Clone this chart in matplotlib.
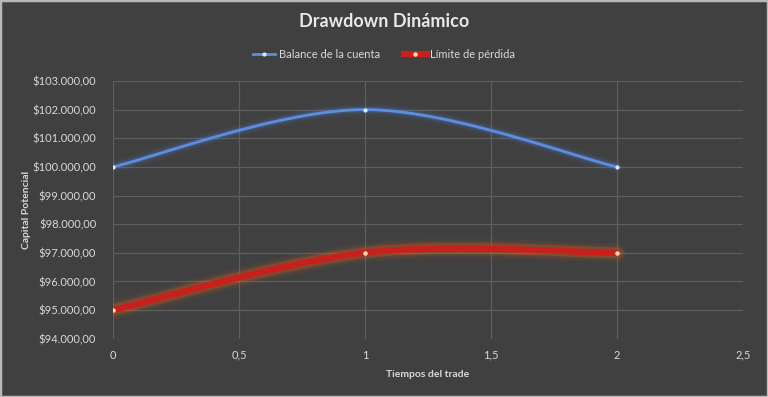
import numpy as np
import matplotlib
matplotlib.use("Agg")
import matplotlib.pyplot as plt
from matplotlib.patches import Rectangle
from matplotlib.ticker import FuncFormatter, MultipleLocator
from matplotlib.lines import Line2D

# Data
tiempos = [0, 1, 2]
balance = [100000, 102000, 100000]
limite = [95000, 97000, 97000]
title = "Drawdown Dinámico"
series_names = ["Balance de la cuenta", "Límite de pérdida"]

plt.rcParams['font.family'] = ['Lato', 'DejaVu Sans']

BG = '#404040'
TXT = '#d9d9d9'
GRID = '#5e5e5e'


def smooth(xs, ys, n=60):
    # Excel-like Bezier smoothing (Catmull-Rom control points)
    xs = np.asarray(xs, float); ys = np.asarray(ys, float)
    P = np.column_stack([xs, ys])
    out = []
    for i in range(len(P) - 1):
        p0 = P[i - 1] if i > 0 else P[i]
        p1 = P[i]; p2 = P[i + 1]
        p3 = P[i + 2] if i + 2 < len(P) else P[i + 1]
        c1 = p1 + (p2 - p0) / 6.0
        c2 = p2 - (p3 - p1) / 6.0
        t = np.linspace(0, 1, n)[:, None]
        seg = (1 - t) ** 3 * p1 + 3 * (1 - t) ** 2 * t * c1 + 3 * (1 - t) * t ** 2 * c2 + t ** 3 * p2
        out.append(seg if i == 0 else seg[1:])
    s = np.vstack(out)
    return s[:, 0], s[:, 1]


fig = plt.figure(figsize=(7.68, 3.97), dpi=100, facecolor=BG)
ax = fig.add_axes([0.147, 0.147, 0.8205, 0.649])
ax.set_facecolor(BG)

# Blue series with glow
bx, by = smooth(tiempos, balance)
for lw, a in [(9, 0.06), (6, 0.1), (4, 0.18)]:
    ax.plot(bx, by, color='#4f81d0', lw=lw, alpha=a, solid_capstyle='round', zorder=3)
ax.plot(bx, by, color='#5b8ee0', lw=2.0, zorder=4)
ax.plot(tiempos, balance, 'o', ms=3, color='#dce8ff', mec='none', zorder=5)

# Red series with glow
rx, ry = smooth(tiempos, limite)
for lw, a in [(14, 0.08), (10, 0.14), (7.5, 0.25)]:
    ax.plot(rx, ry, color='#e0601c', lw=lw, alpha=a, solid_capstyle='round', zorder=3)
ax.plot(rx, ry, color='#c8201c', lw=4.5, zorder=4)
ax.plot(tiempos, limite, 'o', ms=3.2, color='#ffe0b0', mec='none', zorder=5)

ax.set_xlim(0, 2.5)
ax.set_ylim(94000, 103000)
ax.xaxis.set_major_locator(MultipleLocator(0.5))
ax.yaxis.set_major_locator(MultipleLocator(1000))


def fmt_y(v, p):
    s = f"{v:,.2f}"
    s = s.replace(',', 'X').replace('.', ',').replace('X', '.')
    return "$" + s


def fmt_x(v, p):
    s = f"{v:g}"
    return s.replace('.', ',')


ax.yaxis.set_major_formatter(FuncFormatter(fmt_y))
ax.xaxis.set_major_formatter(FuncFormatter(fmt_x))
ax.grid(True, color=GRID, lw=0.9)
ax.set_axisbelow(True)
for s in ax.spines.values():
    s.set_visible(False)
ax.tick_params(length=0, colors=TXT, labelsize=8, pad=8)
ax.tick_params(axis='y', pad=12)

ax.set_ylabel("Capital Potencial", color=TXT, fontsize=7.5, fontweight='bold', labelpad=1)
ax.set_xlabel("Tiempos del trade", color=TXT, fontsize=7.5, fontweight='bold', labelpad=7)

fig.text(0.5, 0.945, title, ha='center', va='center', color='#e8e8e8', fontsize=13, fontweight='bold')

handles = [
    Line2D([0], [0], color='#5b8ee0', lw=2, marker='o', ms=3, mfc='#dce8ff', mec='none'),
    Line2D([0], [0], color='#c8201c', lw=4.5, marker='o', ms=3.2, mfc='#ffe0b0', mec='none'),
]
leg = fig.legend(handles, series_names, loc='center', bbox_to_anchor=(0.5, 0.862), ncol=2,
                 frameon=False, fontsize=8, labelcolor=TXT, handlelength=2.0,
                 handletextpad=0.3, columnspacing=2.2)

fig.patches.append(Rectangle((0, 0), 1, 1, transform=fig.transFigure, fill=False,
                             edgecolor='#b8b8b8', lw=2.5))

fig.savefig("out.png", dpi=100, facecolor=BG)
